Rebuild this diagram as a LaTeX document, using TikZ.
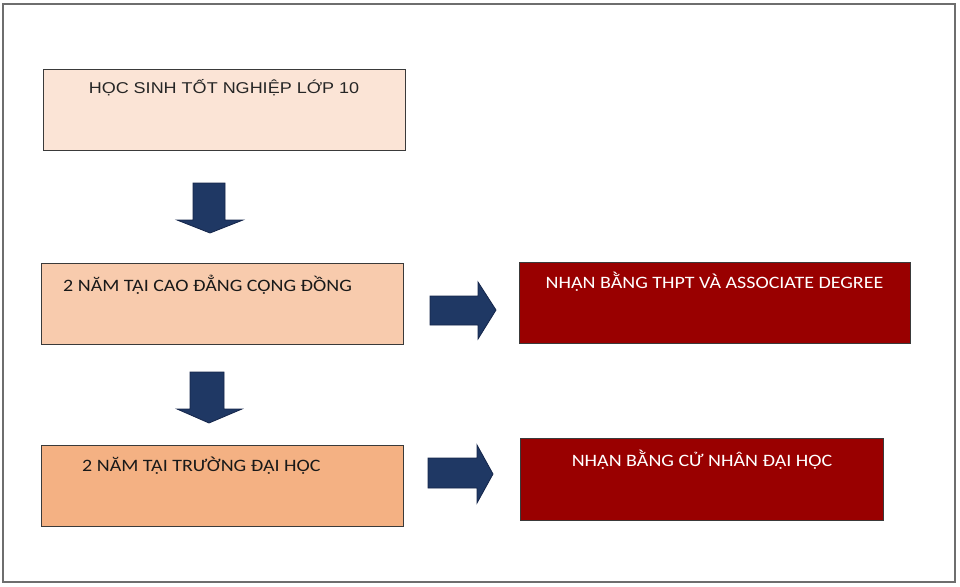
\documentclass[tikz,border=0pt]{standalone}
\usepackage{fontspec}
\setmainfont{Carlito}
\newfontfamily\arialf{Liberation Sans}
\definecolor{frameC}{HTML}{6E6E6E}
\definecolor{edgeC}{HTML}{3A3A3A}
\definecolor{peachA}{HTML}{FBE4D6}
\definecolor{peachB}{HTML}{F8CBAD}
\definecolor{peachC}{HTML}{F4B183}
\definecolor{redC}{HTML}{990000}
\definecolor{navyC}{HTML}{1F3864}
\definecolor{navyE}{HTML}{14254A}
\tikzset{
  x=1pt, y=-1pt,
  boxbase/.style={draw=edgeC, line width=1.3pt, anchor=north west, inner sep=0pt},
  lightbox/.style={boxbase, fill=peachA},
  midbox/.style={boxbase, fill=peachB},
  darkbox/.style={boxbase, fill=peachC},
  redbox/.style={boxbase, fill=redC},
  blockarrow/.style={fill=navyC, draw=navyE, line width=0.8pt, line join=miter},
  lbl/.style={inner sep=0pt, yscale=0.87, transform shape, font=\fontsize{20}{22}\selectfont},
  lblA/.style={inner sep=0pt, yscale=0.87, transform shape, font=\arialf\fontsize{18}{20}\selectfont, text=black!85},
}
\begin{document}
\begin{tikzpicture}
\useasboundingbox (0,0) rectangle (960,586);
\fill[white] (0,0) rectangle (960,586);
\draw[frameC, line width=2pt] (3,4) rectangle (955,582);

% boxes
\node[lightbox, minimum width=362pt, minimum height=81pt] (b1) at (43,69) {};
\node[midbox, minimum width=362pt, minimum height=81pt] (b2) at (41,263) {};
\node[darkbox, minimum width=362pt, minimum height=81pt] (b3) at (41,445) {};
\node[redbox, minimum width=391pt, minimum height=81pt] (r1) at (519,262) {};
\node[redbox, minimum width=363pt, minimum height=82pt] (r2) at (520,438) {};

% labels
\node[lblA] (t1) at (224,88) {HỌC SINH TỐT NGHIỆP LỚP 10};
\node[lbl, anchor=west, text=black!90] (t2) at (63,285) {2 NĂM TẠI CAO ĐẲNG CỘNG ĐỒNG};
\node[lbl, anchor=west, text=black!90] (t3) at (82,466) {2 NĂM TẠI TRƯỜNG ĐẠI HỌC};
\node[lbl, text=white] (t4) at (714.5,282) {NHẬN BẰNG THPT VÀ ASSOCIATE DEGREE};
\node[lbl, text=white] (t5) at (702,460) {NHẬN BẰNG CỬ NHÂN ĐẠI HỌC};

% down arrows
\draw[blockarrow] (193,183) -- (225,183) -- (225,220) -- (243,220) -- (210,233) -- (177,220) -- (193,220) -- cycle;
\draw[blockarrow] (190,372) -- (224,372) -- (224,409) -- (242,409) -- (209,423) -- (177,409) -- (190,409) -- cycle;
% right arrows
\draw[blockarrow] (430,296) -- (478,296) -- (478,282) -- (496,310) -- (478,339) -- (478,325) -- (430,325) -- cycle;
\draw[blockarrow] (428,458) -- (477,458) -- (477,445) -- (493,474) -- (477,503) -- (477,488) -- (428,488) -- cycle;
\end{tikzpicture}
\end{document}
